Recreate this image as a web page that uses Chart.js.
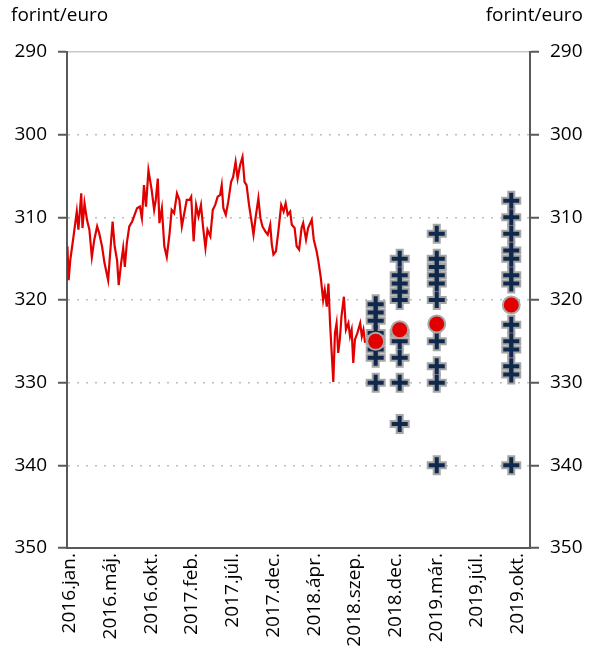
<!DOCTYPE html>
<html>
<head>
<meta charset="utf-8">
<script src="https://cdn.jsdelivr.net/npm/chart.js@4"></script>
<style>
  html, body { margin: 0; padding: 0; background: #fff; }
  #wrap { width: 591px; height: 657px; }
</style>
</head>
<body>
<div id="wrap"><canvas id="forintChart"></canvas></div>
<script>
// ---------------------------- data ----------------------------
const unitText = "forint/euro";
const monthLabels = [
  "2016.jan.", "2016.máj.", "2016.okt.", "2017.feb.", "2017.júl.", "2017.dec.",
  "2018.ápr.", "2018.szep.", "2018.dec.", "2019.már.", "2019.júl.", "2019.okt.",
];
const yTicks = [290, 300, 310, 320, 330, 340, 350];

// exchange rate, x in label steps (0 = 2016.jan.)
const rateX = [
  -0.06, -0.03, 0.01, 0.09, 0.17, 0.21, 0.28, 0.31, 0.36, 0.42, 0.48, 0.54, 0.6, 0.67, 0.72,
  0.79, 0.85, 0.94, 0.99, 1.05, 1.1, 1.16, 1.2, 1.26, 1.31, 1.35, 1.4, 1.46, 1.53, 1.59,
  1.65, 1.72, 1.77, 1.82, 1.87, 1.93, 1.97, 2.01, 2.07, 2.11, 2.16, 2.2, 2.26, 2.32, 2.38,
  2.45, 2.5, 2.56, 2.63, 2.69, 2.75, 2.81, 2.87, 2.94, 2.98, 3.04, 3.1, 3.16, 3.22, 3.27,
  3.33, 3.38, 3.45, 3.51, 3.57, 3.63, 3.69, 3.73, 3.77, 3.83, 3.89, 3.96, 4.01, 4.07, 4.12,
  4.18, 4.24, 4.29, 4.34, 4.4, 4.45, 4.51, 4.56, 4.63, 4.68, 4.73, 4.8, 4.86, 4.92, 4.96,
  5.0, 5.06, 5.12, 5.19, 5.25, 5.3, 5.35, 5.41, 5.45, 5.52, 5.57, 5.63, 5.69, 5.73, 5.8,
  5.85, 5.94, 5.99, 6.06, 6.1, 6.16, 6.22, 6.26, 6.31, 6.35, 6.39, 6.43, 6.47, 6.51, 6.55,
  6.59, 6.63, 6.67, 6.73, 6.78, 6.84, 6.88, 6.92, 6.96, 7.0, 7.06, 7.13, 7.17, 7.21, 7.25,
];
const rateY = [
  313.5, 317.6, 315.2, 312.3, 309.3, 311.5, 307.1, 311.3, 308.3, 310.3, 311.5, 314.8, 312.7, 311.1, 311.9,
  313.5, 315.5, 317.6, 314.3, 310.5, 313.5, 315.2, 318.2, 315.5, 313.7, 316.0, 313.1, 311.1, 310.5, 309.7,
  308.9, 308.7, 310.1, 306.1, 308.7, 304.3, 305.5, 306.7, 309.1, 307.9, 305.3, 310.7, 308.9, 313.5, 314.8,
  311.9, 309.1, 309.5, 307.1, 307.9, 311.1, 309.5, 307.9, 307.9, 307.5, 312.9, 308.5, 309.9, 308.5, 311.1,
  313.7, 311.5, 312.3, 309.1, 308.5, 307.5, 307.3, 306.1, 308.9, 309.7, 308.1, 305.7, 305.1, 303.3, 305.3,
  303.7, 302.7, 305.7, 306.1, 308.5, 310.1, 312.1, 310.1, 307.7, 310.1, 311.1, 311.7, 312.1, 310.9, 313.3,
  314.5, 314.1, 311.7, 308.5, 309.3, 308.3, 309.7, 309.3, 310.9, 311.3, 313.5, 313.9, 311.3, 310.7, 312.7,
  311.3, 310.3, 312.7, 314.1, 315.2, 317.2, 320.0, 318.8, 320.8, 318.0, 322.8, 326.4, 329.9, 324.0, 322.8,
  326.4, 324.8, 322.0, 319.6, 323.6, 322.8, 324.4, 323.6, 327.6, 324.8, 324.0, 322.8, 324.4, 323.6, 325.2,
];

// analyst forecasts
const forecastX = [7.51, 8.1, 9.01, 10.84];
const forecastValues = [
  [320.5, 321.5, 322.5, 324, 325, 326, 327, 330],
  [315, 317, 318, 319, 320, 324, 325, 327, 330, 335],
  [312, 315, 316, 317, 318, 320, 325, 328, 330, 340],
  [308, 310, 312, 314, 315, 317, 318, 323, 325, 326, 328, 329, 340],
];
const forecastMean = [325.0, 323.6, 322.9, 320.6];

// --------------------------------------------------------------
const ratePoints = rateX.map((x, i) => ({ x: x, y: rateY[i] }));
const forecastPoints = forecastX.flatMap((x, i) =>
  forecastValues[i].map((v) => ({ x: x, y: v }))
);
const meanPoints = forecastX.map((x, i) => ({ x: x, y: forecastMean[i] }));

Chart.defaults.font.family = '"Open Sans", sans-serif';
Chart.defaults.font.size = 19;
Chart.defaults.color = "#000";

const unitTitle = {
  id: "unitTitle",
  afterDraw(chart) {
    const c = chart.ctx;
    c.save();
    c.font = '19px "Open Sans", sans-serif';
    c.fillStyle = "#000";
    c.textBaseline = "top";
    c.textAlign = "left";
    c.fillText(unitText, 11, 6);
    c.textAlign = "right";
    c.fillText(unitText, chart.width - 8, 6);
    c.restore();
  },
};

const yAxis = (side) => ({
  type: "linear",
  position: side,
  reverse: true,
  min: yTicks[0],
  max: yTicks[yTicks.length - 1],
  afterBuildTicks: (s) => {
    s.ticks = yTicks.map((v) => ({ value: v }));
  },
  ticks: { padding: 11 },
  grid: {
    drawOnChartArea: side === "left",
    color: (c) =>
      c.tick && c.tick.value === 350 ? "rgba(0,0,0,0)" : c.tick && c.tick.value === 290 ? "#c8c8c8" : "#bdbdbd",
    lineWidth: 1.5,
    tickLength: 9,
    tickColor: "#595959",
    tickWidth: 2,
  },
  border: {
    color: "#595959",
    width: 2,
    dash: (c) => (c.tick && c.tick.value === 290 ? [] : [2, 7]),
  },
  afterFit: (s) => {
    s.width = side === "left" ? 67 : 61;
  },
});

new Chart(document.getElementById("forintChart"), {
  data: {
    datasets: [
      {
        type: "scatter",
        label: "mean",
        data: meanPoints,
        pointStyle: "circle",
        pointRadius: 8.5,
        backgroundColor: "#e00000",
        borderColor: "#a9a9a9",
        borderWidth: 2,
        order: 0,
      },
      {
        type: "scatter",
        label: "forecast",
        data: forecastPoints,
        pointStyle: "cross",
        pointRadius: 8,
        borderColor: "#10284c",
        borderWidth: 4,
        order: 1,
      },
      {
        type: "scatter",
        label: "forecast outline",
        data: forecastPoints,
        pointStyle: "cross",
        pointRadius: 10,
        borderColor: "#a6a6a6",
        borderWidth: 8,
        order: 2,
      },
      {
        type: "line",
        label: "forint/euro",
        data: ratePoints,
        borderColor: "#e00000",
        borderWidth: 2.2,
        pointRadius: 0,
        tension: 0,
        order: 3,
      },
    ],
  },
  options: {
    responsive: true,
    maintainAspectRatio: false,
    animation: false,
    layout: { padding: { top: 52, left: 0, right: 0, bottom: 0 } },
    plugins: { legend: { display: false }, tooltip: { enabled: false } },
    scales: {
      x: {
        type: "linear",
        position: "bottom",
        min: -0.07,
        max: 11.3,
        afterBuildTicks: (s) => {
          s.ticks = monthLabels.map((l, i) => ({ value: i }));
        },
        ticks: {
          autoSkip: false,
          maxRotation: 90,
          minRotation: 90,
          padding: 5,
          callback: (v) => monthLabels[Math.round(v)],
        },
        grid: { display: false, drawTicks: false },
        border: { color: "#595959", width: 2 },
        afterFit: (s) => {
          s.height = 109;
        },
      },
      y: yAxis("left"),
      y2: yAxis("right"),
    },
  },
  plugins: [unitTitle],
});
</script>
</body>
</html>
